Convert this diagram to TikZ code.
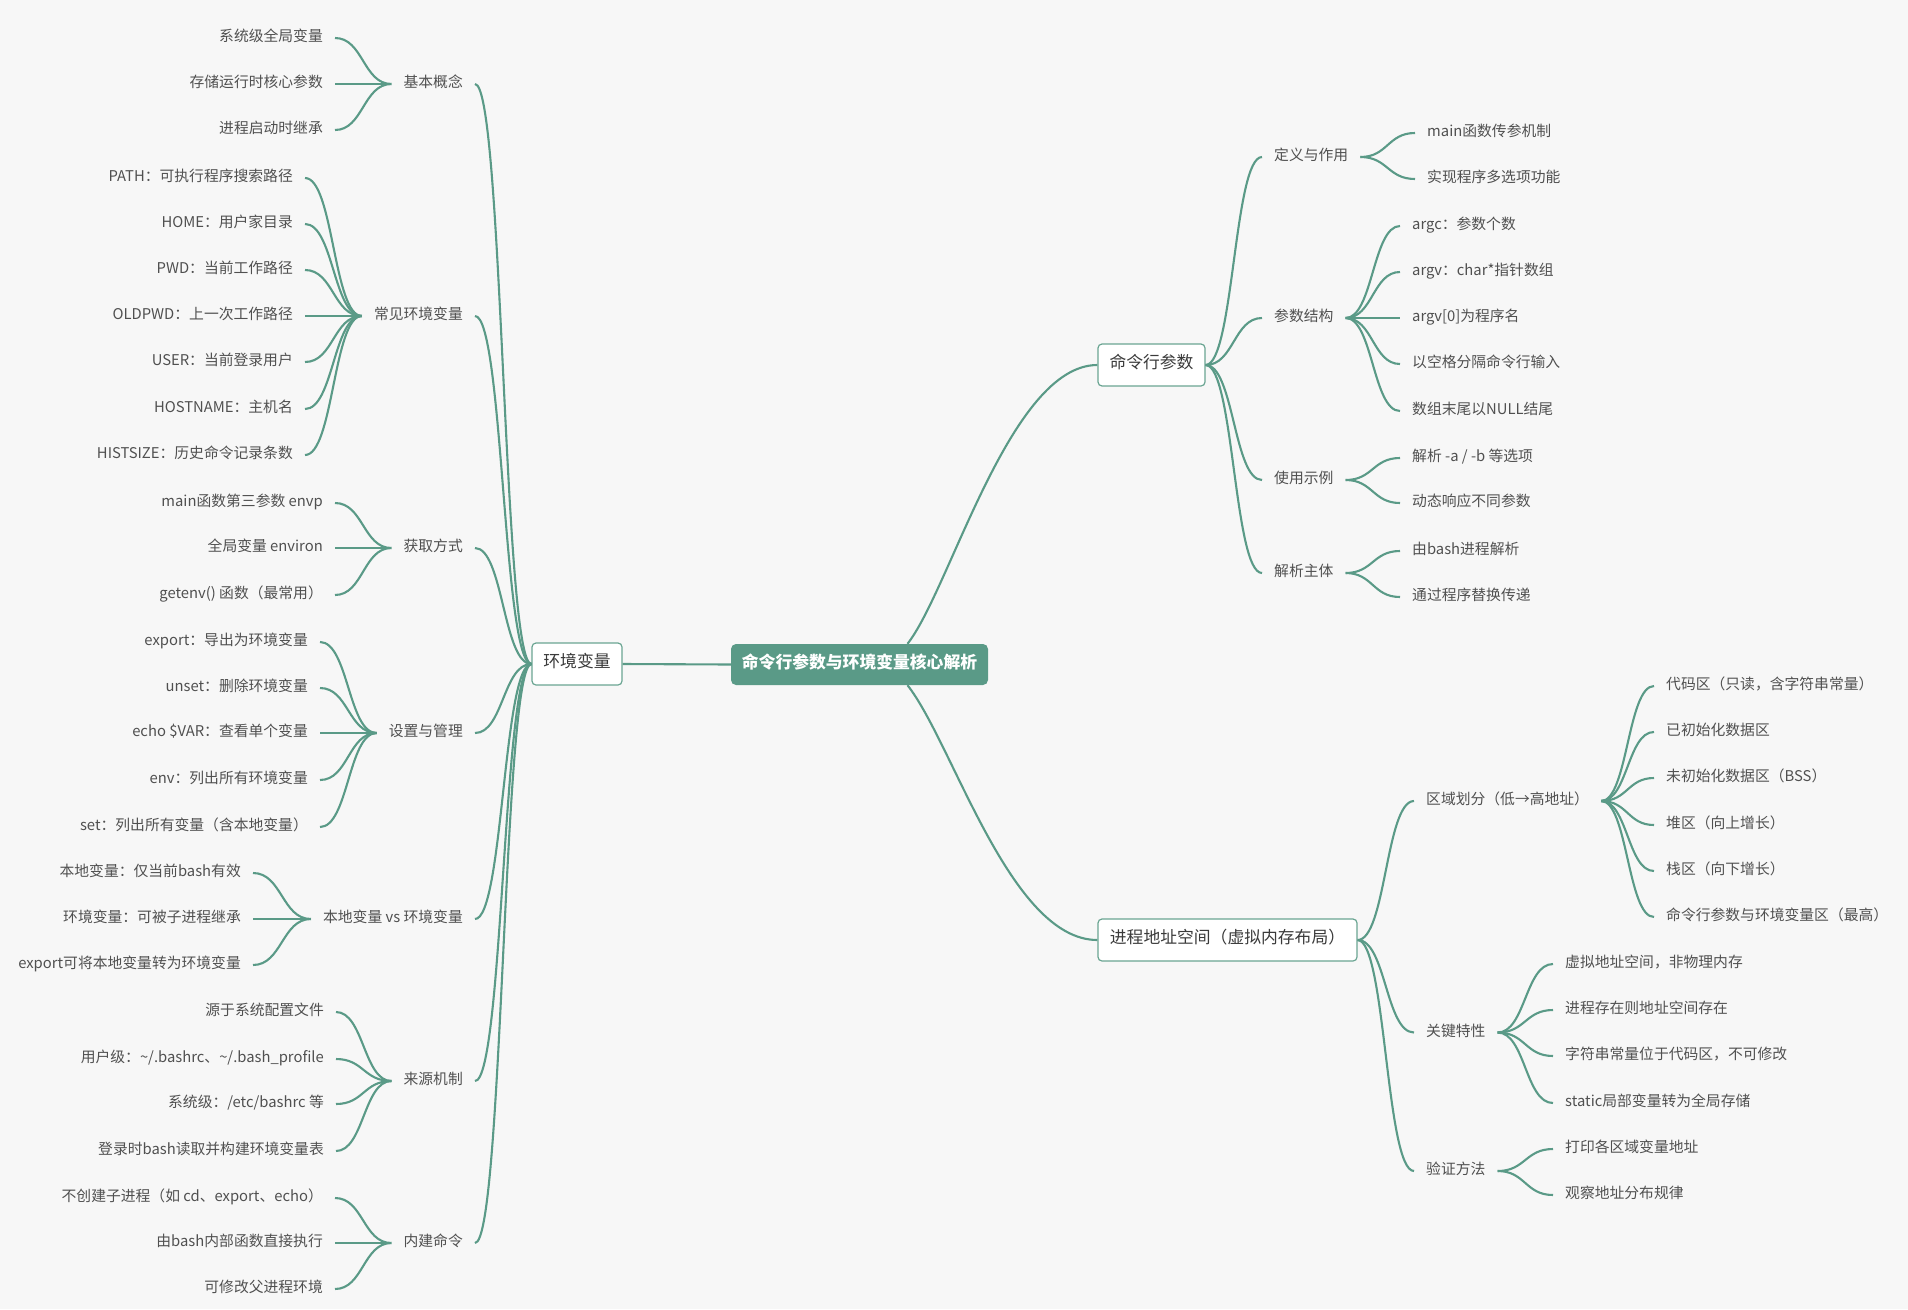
\documentclass[tikz,border=0pt]{standalone}
\usepackage{fontspec}
\setmainfont{Noto Sans CJK SC}
\usetikzlibrary{calc}
\definecolor{linec}{HTML}{5A9A87}
\definecolor{boxc}{HTML}{6AA592}
\definecolor{txt}{HTML}{505050}
\definecolor{boxtxt}{HTML}{3A3A3A}
\definecolor{bgc}{HTML}{F7F7F7}
\newcommand{\leaffont}{\fontsize{14.8}{17}\selectfont}
\newcommand{\boxfont}{\fontsize{16.8}{20}\selectfont}
\begin{document}
\begin{tikzpicture}[x=1pt,y=-1pt,
  leaf/.style={inner xsep=12pt, inner ysep=2pt, text height=0.88em, text depth=0.12em, font=\leaffont, text=txt},
  L/.style={leaf, anchor=east},
  R/.style={leaf, anchor=west},
  topbox/.style={draw=boxc, line width=1.2pt, fill=white, rounded corners=4pt, inner xsep=8pt,
     text height=0.88em, text depth=0.12em, minimum height=42pt, font=\boxfont, text=boxtxt},
  rootbox/.style={fill=linec, rounded corners=5pt, inner xsep=8pt, text height=0.88em, text depth=0.12em,
     minimum height=41pt, minimum width=257pt, font=\boxfont\bfseries, text=white},
  conn/.style={draw=linec, line width=2.1pt},
  sc/.style={to path={let \p1=(\tikztostart), \p2=(\tikztotarget) in
     .. controls ({(\x1+\x2)/2},\y1) and ({(\x1+\x2)/2},\y2) .. (\tikztotarget) \tikztonodes}}
]
\fill[bgc] (0,0) rectangle (1908,1309);
\useasboundingbox (0,0) rectangle (1908,1309);

% ---------- main nodes ----------
\node[rootbox] (root) at (859.5,664.5) {命令行参数与环境变量核心解析};
\node[topbox, minimum width=90pt] (env) at (577,664) {环境变量};
\node[topbox, minimum width=107pt] (cmd) at (1151.5,365) {命令行参数};
\node[topbox, minimum width=259pt] (proc) at (1227.5,940) {进程地址空间（虚拟内存布局）};

\draw[conn] (root.west) -- (env.east);
\draw[conn] ([xshift=48pt]root.north) .. controls (950,590) and (1010,365) .. (cmd.west);
\draw[conn] ([xshift=48pt]root.south) .. controls (953,743) and (1010,940) .. (proc.west);

% ---------- left: environment variables ----------
\node[L] (a1) at (475,84) {基本概念};
\node[L] (a2) at (475,316) {常见环境变量};
\node[L] (a3) at (475,548) {获取方式};
\node[L] (a4) at (475,733) {设置与管理};
\node[L] (a5) at (475,919) {本地变量 vs 环境变量};
\node[L] (a6) at (475,1081) {来源机制};
\node[L] (a7) at (475,1243) {内建命令};
\foreach \k in {a1,a2,a3,a4,a5,a6,a7} \draw[conn] (env.west) to[sc] (\k.east);

\node[L] (a1-1) at (335,38) {系统级全局变量};
\node[L] (a1-2) at (335,84) {存储运行时核心参数};
\node[L] (a1-3) at (335,130) {进程启动时继承};
\foreach \k in {1,2,3} \draw[conn] (a1.west) to[sc] (a1-\k.east);

\node[L] (a2-1) at (305,178) {PATH：可执行程序搜索路径};
\node[L] (a2-2) at (305,224) {HOME：用户家目录};
\node[L] (a2-3) at (305,270) {PWD：当前工作路径};
\node[L] (a2-4) at (305,316) {OLDPWD：上一次工作路径};
\node[L] (a2-5) at (305,362) {USER：当前登录用户};
\node[L] (a2-6) at (305,409) {HOSTNAME：主机名};
\node[L] (a2-7) at (305,455) {HISTSIZE：历史命令记录条数};
\foreach \k in {1,...,7} \draw[conn] (a2.west) to[sc] (a2-\k.east);

\node[L] (a3-1) at (335,503) {main函数第三参数 envp};
\node[L] (a3-2) at (335,548) {全局变量 environ};
\node[L] (a3-3) at (335,595) {getenv() 函数（最常用）};
\foreach \k in {1,2,3} \draw[conn] (a3.west) to[sc] (a3-\k.east);

\node[L] (a4-1) at (320,642) {export：导出为环境变量};
\node[L] (a4-2) at (320,688) {unset：删除环境变量};
\node[L] (a4-3) at (320,733) {echo \$VAR：查看单个变量};
\node[L] (a4-4) at (320,780) {env：列出所有环境变量};
\node[L] (a4-5) at (320,827) {set：列出所有变量（含本地变量）};
\foreach \k in {1,...,5} \draw[conn] (a4.west) to[sc] (a4-\k.east);

\node[L] (a5-1) at (253,873) {本地变量：仅当前bash有效};
\node[L] (a5-2) at (253,919) {环境变量：可被子进程继承};
\node[L] (a5-3) at (253,965) {export可将本地变量转为环境变量};
\foreach \k in {1,2,3} \draw[conn] (a5.west) to[sc] (a5-\k.east);

\node[L] (a6-1) at (336,1012) {源于系统配置文件};
\node[L] (a6-2) at (336,1059) {用户级：\textasciitilde/.bashrc、\textasciitilde/.bash\_profile};
\node[L] (a6-3) at (336,1104) {系统级：/etc/bashrc 等};
\node[L] (a6-4) at (336,1151) {登录时bash读取并构建环境变量表};
\foreach \k in {1,...,4} \draw[conn] (a6.west) to[sc] (a6-\k.east);

\node[L] (a7-1) at (335,1198) {不创建子进程（如 cd、export、echo）};
\node[L] (a7-2) at (335,1243) {由bash内部函数直接执行};
\node[L] (a7-3) at (335,1289) {可修改父进程环境};
\foreach \k in {1,2,3} \draw[conn] (a7.west) to[sc] (a7-\k.east);

% ---------- right top: command-line arguments ----------
\node[R] (b1) at (1262,157) {定义与作用};
\node[R] (b2) at (1262,318) {参数结构};
\node[R] (b3) at (1262,480) {使用示例};
\node[R] (b4) at (1262,573) {解析主体};
\foreach \k in {b1,b2,b3,b4} \draw[conn] (cmd.east) to[sc] (\k.west);

\node[R] (b1-1) at (1415,133) {main函数传参机制};
\node[R] (b1-2) at (1415,179) {实现程序多选项功能};
\foreach \k in {1,2} \draw[conn] (b1.east) to[sc] (b1-\k.west);

\node[R] (b2-1) at (1400,226) {argc：参数个数};
\node[R] (b2-2) at (1400,272) {argv：char*指针数组};
\node[R] (b2-3) at (1400,318) {argv[0]为程序名};
\node[R] (b2-4) at (1400,364) {以空格分隔命令行输入};
\node[R] (b2-5) at (1400,411) {数组末尾以NULL结尾};
\foreach \k in {1,...,5} \draw[conn] (b2.east) to[sc] (b2-\k.west);

\node[R] (b3-1) at (1400,458) {解析 -a / -b 等选项};
\node[R] (b3-2) at (1400,503) {动态响应不同参数};
\foreach \k in {1,2} \draw[conn] (b3.east) to[sc] (b3-\k.west);

\node[R] (b4-1) at (1400,551) {由bash进程解析};
\node[R] (b4-2) at (1400,597) {通过程序替换传递};
\foreach \k in {1,2} \draw[conn] (b4.east) to[sc] (b4-\k.west);

% ---------- right bottom: process address space ----------
\node[R] (c1) at (1414,801) {区域划分（低→高地址）};
\node[R] (c2) at (1414,1032.5) {关键特性};
\node[R] (c3) at (1414,1171) {验证方法};
\foreach \k in {c1,c2,c3} \draw[conn] (proc.east) to[sc] (\k.west);

\node[R] (c1-1) at (1654,686) {代码区（只读，含字符串常量）};
\node[R] (c1-2) at (1654,732) {已初始化数据区};
\node[R] (c1-3) at (1654,778) {未初始化数据区（BSS）};
\node[R] (c1-4) at (1654,825) {堆区（向上增长）};
\node[R] (c1-5) at (1654,871) {栈区（向下增长）};
\node[R] (c1-6) at (1654,917) {命令行参数与环境变量区（最高）};
\foreach \k in {1,...,6} \draw[conn] (c1.east) to[sc] (c1-\k.west);

\node[R] (c2-1) at (1553,964) {虚拟地址空间，非物理内存};
\node[R] (c2-2) at (1553,1010) {进程存在则地址空间存在};
\node[R] (c2-3) at (1553,1056) {字符串常量位于代码区，不可修改};
\node[R] (c2-4) at (1553,1103) {static局部变量转为全局存储};
\foreach \k in {1,...,4} \draw[conn] (c2.east) to[sc] (c2-\k.west);

\node[R] (c3-1) at (1553,1149) {打印各区域变量地址};
\node[R] (c3-2) at (1553,1195) {观察地址分布规律};
\foreach \k in {1,2} \draw[conn] (c3.east) to[sc] (c3-\k.west);
\end{tikzpicture}
\end{document}
